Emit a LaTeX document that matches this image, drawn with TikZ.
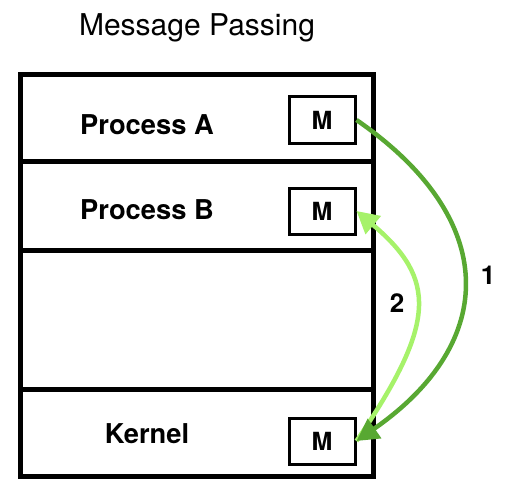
\documentclass[tikz,border=0pt]{standalone}
\usepackage{fontspec}
\setmainfont{TeX Gyre Heros}
\usetikzlibrary{arrows.meta}
\definecolor{darkg}{RGB}{88,168,50}
\definecolor{lightg}{RGB}{166,242,106}
\tikzset{
  frame/.style={line width=5pt},
  mbox/.style={draw, line width=3pt, minimum width=66pt, minimum height=46pt, inner sep=0pt,
    font=\fontsize{25}{27}\bfseries\selectfont},
  lbl/.style={font=\fontsize{27.3}{30}\bfseries\selectfont, anchor=base},
  num/.style={font=\fontsize{26}{28}\bfseries\selectfont},
  arr/.style={line width=4.5pt, -{Triangle[length=22pt,width=23pt]}},
}
\begin{document}
\begin{tikzpicture}[x=1pt,y=-1pt]
\useasboundingbox (0,0) rectangle (508,492);
\node[anchor=base, font=\fontsize{30}{33}\selectfont] (title) at (197,35.5) {Message Passing};
\draw[frame] (20.5,75) rectangle (373,476);
\draw[frame] (20.5,161) -- (373,161);
\draw[frame] (20.5,250) -- (373,250);
\draw[frame] (20.5,389) -- (373,389);
\node[lbl] (pa) at (147,134) {Process A};
\node[lbl] (pb) at (147,219) {Process B};
\node[lbl] (kn) at (147,443) {Kernel};
\node[mbox] (mA) at (322,120) {M};
\node[mbox] (mB) at (322,211) {M};
\node[mbox] (mK) at (322,441) {M};
\draw[arr, lightg] (mK.east) .. controls (437,323) and (437,279) .. (mB.east);
\draw[arr, darkg] (mA.east) .. controls (500,219) and (499,342) .. (mK.east);
\node[num] (n1) at (488,275) {1};
\node[num] (n2) at (397,303) {2};
\end{tikzpicture}
\end{document}
